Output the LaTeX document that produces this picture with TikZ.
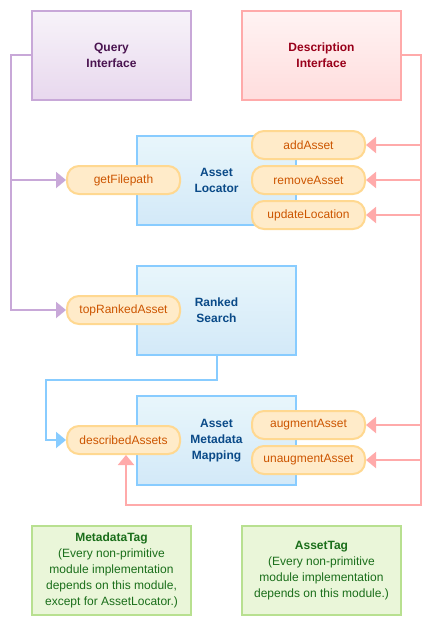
\documentclass[tikz,border=0pt]{standalone}
\usepackage{fontspec}
\setmainfont{Liberation Sans}
\usetikzlibrary{arrows.meta}
\definecolor{qborder}{HTML}{C8A8D8}
\definecolor{qtop}{HTML}{F7F3F9}
\definecolor{qbot}{HTML}{E8D8EE}
\definecolor{qtext}{HTML}{4A1450}
\definecolor{dborder}{HTML}{FFAAAA}
\definecolor{dtop}{HTML}{FFF3F3}
\definecolor{dbot}{HTML}{FFDDDD}
\definecolor{dtext}{HTML}{99001A}
\definecolor{bborder}{HTML}{88CCFF}
\definecolor{btop}{HTML}{E8F6FB}
\definecolor{bbot}{HTML}{D3E9F8}
\definecolor{btext}{HTML}{0A4A88}
\definecolor{pfill}{HTML}{FFEBC9}
\definecolor{pborder}{HTML}{FFD890}
\definecolor{ptext}{HTML}{CC5500}
\definecolor{gfill}{HTML}{EAF6D9}
\definecolor{gborder}{HTML}{B8E090}
\definecolor{gtext}{HTML}{1A6E1A}
\begin{document}
\begin{tikzpicture}[x=1pt,y=-1pt,
  font=\fontsize{12}{16}\selectfont,
  bigbox/.style={minimum width=159pt,minimum height=89pt,line width=2pt,align=center,inner sep=0pt},
  qbox/.style={bigbox,draw=qborder,top color=qtop,bottom color=qbot,text=qtext,font=\fontsize{12}{16}\selectfont\bfseries},
  dbox/.style={bigbox,draw=dborder,top color=dtop,bottom color=dbot,text=dtext,font=\fontsize{12}{16}\selectfont\bfseries},
  mbox/.style={bigbox,draw=bborder,top color=btop,bottom color=bbot,text=btext,font=\fontsize{12}{16}\selectfont\bfseries},
  gbox/.style={bigbox,draw=gborder,fill=gfill,text=gtext},
  pill/.style={minimum width=113pt,minimum height=28pt,rounded corners=12pt,line width=2pt,draw=pborder,fill=pfill,text=ptext,inner sep=0pt},
  ql/.style={draw=qborder,line width=2pt},
  dl/.style={draw=dborder,line width=2pt},
  bl/.style={draw=bborder,line width=2pt},
  qtip/.style={-{Triangle[length=10pt,width=16pt,fill=qborder]}},
  dtip/.style={-{Triangle[length=10pt,width=16pt,fill=dborder]}},
  btip/.style={-{Triangle[length=10pt,width=16pt,fill=bborder]}}
]
\useasboundingbox (0,0) rectangle (432,626);
\fill[white] (0,0) rectangle (432,626);

\node[qbox] (qi) at (111.5,55.5) {Query\\Interface};
\node[dbox] (di) at (321.5,55.5) {Description\\Interface};
\node[mbox] (al) at (216.5,180.5) {Asset\\Locator};
\node[mbox] (rs) at (216.5,310.5) {Ranked\\Search};
\node[mbox] (amm) at (216.5,440.5) {Asset\\Metadata\\Mapping};

\node[pill] (gf) at (123.5,180) {getFilepath};
\node[pill] (aa) at (308.5,145) {addAsset};
\node[pill] (ra) at (308.5,180) {removeAsset};
\node[pill] (ul) at (308.5,215) {updateLocation};
\node[pill] (tr) at (123.5,310) {topRankedAsset};
\node[pill] (da) at (123.5,440) {describedAssets};
\node[pill] (ag) at (308.5,425) {augmentAsset};
\node[pill] (ua) at (308.5,460) {unaugmentAsset};

\node[gbox] (mt) at (111.5,570.5) {\textbf{MetadataTag}\\(Every non-primitive\\module implementation\\depends on this module,\\except for AssetLocator.)};
\node[gbox] (at) at (321.5,570.5) {\textbf{AssetTag}\\(Every non-primitive\\module implementation\\depends on this module.)};

% purple connectors
\coordinate (qbus) at (11,310);
\draw[ql,qtip] (qi.west) -| (qbus) -- (tr.west);
\draw[ql,qtip] (qbus |- gf.west) -- (gf.west);

% pink connectors
\coordinate (dbus) at (421,505);
\draw[dl,dtip] (di.east) -| (dbus) -| ([xshift=2.5pt]da.south);
\draw[dl,dtip] (dbus |- aa.east) -- (aa.east);
\draw[dl,dtip] (dbus |- ra.east) -- (ra.east);
\draw[dl,dtip] (dbus |- ul.east) -- (ul.east);
\draw[dl,dtip] (dbus |- ag.east) -- (ag.east);
\draw[dl,dtip] (dbus |- ua.east) -- (ua.east);

% blue connector
\coordinate (bbus) at (46,380);
\draw[bl,btip] (rs.south) |- (bbus) |- (da.west);
\end{tikzpicture}
\end{document}
